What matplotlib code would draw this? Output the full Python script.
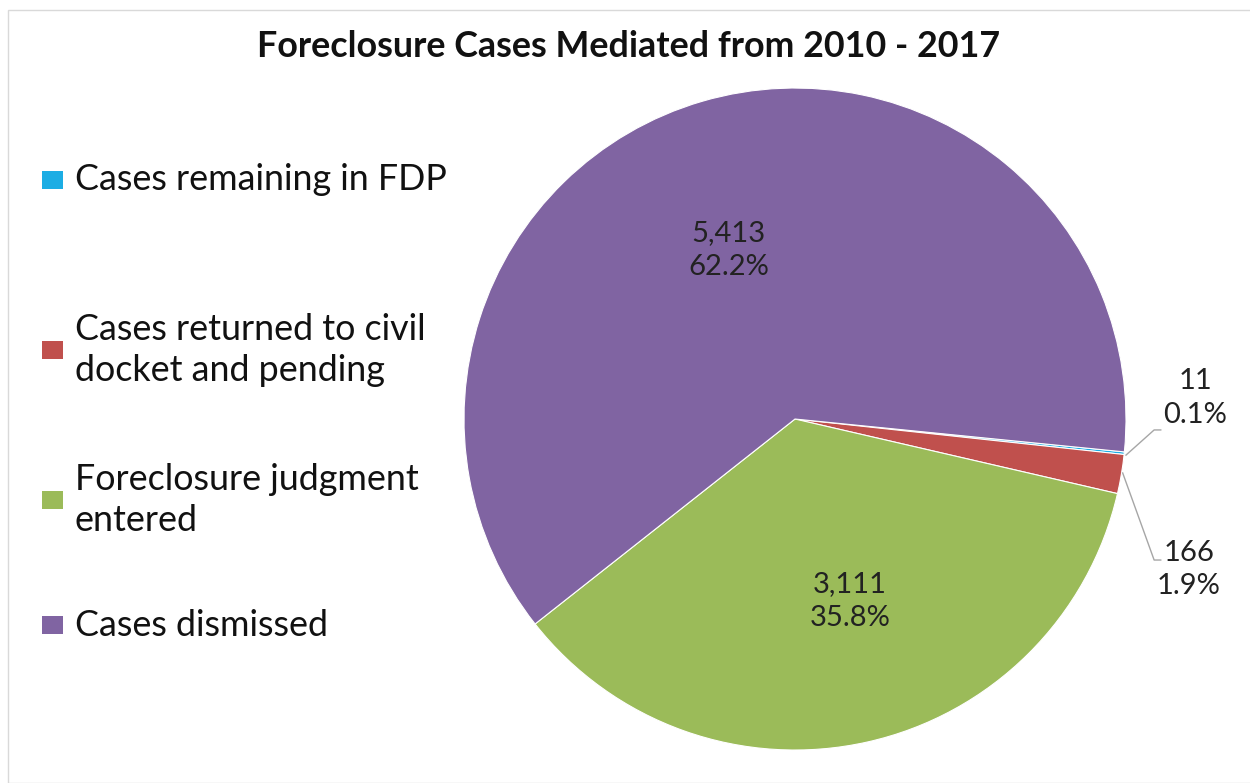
import matplotlib.pyplot as plt
import numpy as np
from matplotlib.patches import Rectangle

plt.rcParams['font.family'] = ['Lato', 'DejaVu Sans']

# data
categories = ['Cases remaining in FDP', 'Cases returned to civil\ndocket and pending',
              'Foreclosure judgment\nentered', 'Cases dismissed']
counts = [11, 166, 3111, 5413]
colors = ['#1CADE4', '#C0504D', '#9BBB59', '#8064A2']

total = sum(counts)
pcts = [c / total * 100 for c in counts]

fig = plt.figure(figsize=(12.5, 7.83), dpi=100)

# pie
ax = fig.add_axes([0.3712, 0.0421, 0.5296, 0.8455])
wedges, _ = ax.pie(counts, colors=colors, startangle=-5.7, counterclock=False,
                   wedgeprops=dict(edgecolor='white', linewidth=0.8))
ax.set_xlim(-1, 1)
ax.set_ylim(-1, 1)
ax.set_aspect('equal')

lbl = ['{:,}\n{:.1f}%'.format(c, p) for c, p in zip(counts, pcts)]
fs = 21

# inside labels for the big slices
ax.text(-0.20, 0.51, lbl[3], ha='center', va='center', fontsize=fs, color='#222222', linespacing=1.35)
ax.text(0.166, -0.55, lbl[2], ha='center', va='center', fontsize=fs, color='#222222', linespacing=1.35)

# outside labels with leader lines for the small ones
ax.text(1.21, 0.063, lbl[0], ha='center', va='center', fontsize=fs, color='#222222', linespacing=1.35)
ax.text(1.19, -0.455, lbl[1], ha='center', va='center', fontsize=fs, color='#222222', linespacing=1.35)
ax.plot([1.0, 1.085, 1.105], [-0.109, -0.033, -0.033], color='#a6a6a6', lw=1)
ax.plot([0.990, 1.085, 1.105], [-0.163, -0.426, -0.426], color='#a6a6a6', lw=1)
for l in ax.lines:
    l.set_clip_on(False)

# title
fig.text(0.503, 0.94, 'Foreclosure Cases Mediated from 2010 - 2017', ha='center', va='center',
         fontsize=25.8, fontweight='bold', color='#111111')

# legend
leg_y = [180, 350, 500, 625]
for name, col, y in zip(categories, colors, leg_y):
    yf = 1 - y / 783
    fig.patches.append(Rectangle((42 / 1250, yf - 9 / 783), 21 / 1250, 18 / 783,
                                 transform=fig.transFigure, facecolor=col, edgecolor='none'))
    fig.text(75 / 1250, yf, name, ha='left', va='center', fontsize=25.8, color='#111111', linespacing=1.3)

# border
fig.patches.append(Rectangle((8 / 1250, 0), 1250, 1 - 10 / 783, transform=fig.transFigure,
                             fill=False, edgecolor='#d9d9d9', lw=1))

plt.savefig('out.png')
